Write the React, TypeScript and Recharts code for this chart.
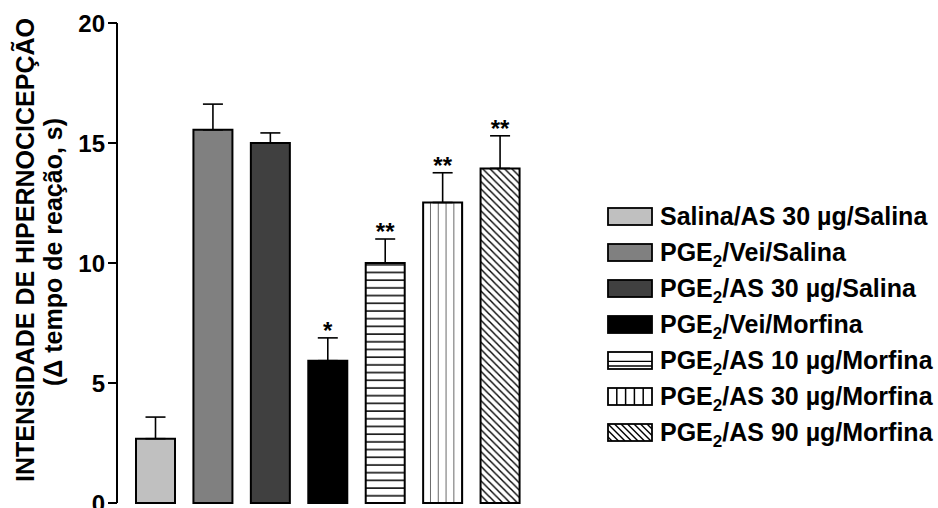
import React from 'react';
import { BarChart, Bar, XAxis, YAxis, ErrorBar, Cell, LabelList, Legend } from 'recharts';

const groups = [
  'Salina/AS 30 µg/Salina',
  'PGE2/Vei/Salina',
  'PGE2/AS 30 µg/Salina',
  'PGE2/Vei/Morfina',
  'PGE2/AS 10 µg/Morfina',
  'PGE2/AS 30 µg/Morfina',
  'PGE2/AS 90 µg/Morfina',
];
const means = [2.68, 15.55, 15.0, 5.93, 10.0, 12.52, 13.94];
const sems = [0.9, 1.07, 0.42, 0.95, 1.0, 1.24, 1.36];
const signif = ['', '', '', '*', '**', '**', '**'];
const yTicks = [0, 5, 10, 15, 20];
const yLabelLine1 = 'INTENSIDADE DE HIPERNOCICEPÇÃO';
const yLabelLine2 = '(Δ tempo de reação, s)';

const FILLS = ['#c0c0c0', '#808080', '#404040', '#000000', 'url(#hlines)', 'url(#vlines)', 'url(#diag)'];
const KINDS = ['solid', 'solid', 'solid', 'solid', 'h', 'v', 'd'];
const FONT = "'Liberation Sans', Arial, Helvetica, sans-serif";

const data = groups.map((g, i) => ({ name: g, mean: means[i], err: [0, sems[i]], sig: signif[i] }));

function renderLabelText(label: string) {
  const parts = label.split('PGE2');
  if (parts.length === 1) return label;
  return (
    <>
      PGE<span style={{ fontSize: 17, verticalAlign: '-6px', lineHeight: 0 }}>2</span>
      {parts[1]}
    </>
  );
}

function Swatch({ i }: { i: number }) {
  const kind = KINDS[i];
  const w = 44;
  const h = 17;
  const lines: React.ReactNode[] = [];
  if (kind === 'h') {
    lines.push(<line key="a" x1={1} x2={1 + w} y1={1 + h * 0.55} y2={1 + h * 0.55} stroke="#000" strokeWidth={1.2} />);
    lines.push(<line key="b" x1={1} x2={1 + w} y1={1 + h * 0.82} y2={1 + h * 0.82} stroke="#000" strokeWidth={1.6} />);
  } else if (kind === 'v') {
    for (let k = 1; k < 5; k++) {
      lines.push(<line key={k} x1={1 + (w * k) / 5} x2={1 + (w * k) / 5} y1={1} y2={1 + h} stroke="#000" strokeWidth={1.5} />);
    }
  } else if (kind === 'd') {
    for (let k = -3; k < 8; k++) {
      const x0 = 1 + k * 6.5;
      lines.push(<line key={k} x1={x0} y1={1} x2={x0 + h} y2={1 + h} stroke="#000" strokeWidth={1.4} />);
    }
  }
  return (
    <svg width={46} height={19} style={{ display: 'block', flex: 'none' }}>
      <defs>
        <clipPath id={`sw-clip-${i}`}>
          <rect x={1} y={1} width={w} height={h} />
        </clipPath>
      </defs>
      <rect x={1} y={1} width={w} height={h} fill={kind === 'solid' ? FILLS[i] : '#fff'} />
      <g clipPath={`url(#sw-clip-${i})`}>{lines}</g>
      <rect x={1} y={1} width={w} height={h} fill="none" stroke="#000" strokeWidth={1.8} />
    </svg>
  );
}

const renderLegend = () => (
  <div style={{ fontFamily: FONT, fontWeight: 'bold', fontSize: 25, color: '#000' }}>
    {groups.map((g, i) => (
      <div key={g} style={{ display: 'flex', alignItems: 'center', height: 36, whiteSpace: 'nowrap' }}>
        <Swatch i={i} />
        <span style={{ marginLeft: 7, lineHeight: '25px' }}>{renderLabelText(g)}</span>
      </div>
    ))}
  </div>
);

const renderYLabel = (props: any) => {
  const vb = props.viewBox || { x: 0, y: 23, width: 117, height: 480 };
  const cy = vb.y + vb.height / 2;
  return (
    <g>
      <text
        transform={`translate(${vb.x + 34}, ${cy - 13}) rotate(-90)`}
        textAnchor="middle"
        fontSize={25}
        fontWeight="bold"
        fontFamily={FONT}
        fill="#000"
      >
        {yLabelLine1}
      </text>
      <text
        transform={`translate(${vb.x + 62}, ${cy - 11}) rotate(-90)`}
        textAnchor="middle"
        fontSize={25}
        fontWeight="bold"
        fontFamily={FONT}
        fill="#000"
      >
        {yLabelLine2}
      </text>
    </g>
  );
};

const renderSig = (props: any) => {
  const { index, value } = props;
  const vb = props.viewBox || props;
  if (!value || index == null) return null;
  const pxPerUnit = vb.height / means[index];
  const errTop = vb.y - sems[index] * pxPerUnit;
  return (
    <text
      x={vb.x + vb.width / 2}
      y={errTop + 1}
      textAnchor="middle"
      fontSize={24}
      fontWeight="bold"
      fontFamily={FONT}
      fill="#000"
    >
      {value}
    </text>
  );
};

export default function App() {
  return (
    <div style={{ position: 'absolute', left: 0, top: 0, width: 938, height: 508, background: '#fff' }}>
      <BarChart width={938} height={508} data={data} margin={{ top: 23, right: 398, bottom: 5, left: 0 }}>
        <defs>
          <pattern id="hlines" patternUnits="userSpaceOnUse" width={8} height={7.7}>
            <line x1={0} x2={8} y1={3} y2={3} stroke="#000" strokeWidth={1.5} />
          </pattern>
          <pattern id="vlines" patternUnits="objectBoundingBox" patternContentUnits="objectBoundingBox" width={0.2} height={1}>
            <rect x={0} y={0} width={0.2} height={1} fill="#fff" />
            <rect x={0.185} y={0} width={0.03} height={1} fill="#000" />
          </pattern>
          <pattern id="diag" patternUnits="userSpaceOnUse" width={7.3} height={7.3}>
            <rect x={0} y={0} width={7.3} height={7.3} fill="#fff" />
            <path d="M0,0 L7.3,7.3 M-1,6.3 L1,8.3 M6.3,-1 L8.3,1" stroke="#000" strokeWidth={1.4} />
          </pattern>
        </defs>
        <XAxis
          dataKey="name"
          tick={false}
          tickLine={false}
          height={0}
          padding={{ left: 10, right: 11 }}
          axisLine={{ stroke: '#000', strokeWidth: 2 }}
        />
        <YAxis
          domain={[0, 20]}
          ticks={yTicks}
          width={117}
          tickSize={9}
          tickMargin={3}
          interval={0}
          axisLine={{ stroke: '#000', strokeWidth: 2 }}
          tickLine={{ stroke: '#000', strokeWidth: 2 }}
          tick={{ fill: '#000', fontSize: 24, fontWeight: 'bold', fontFamily: FONT }}
          label={{ content: renderYLabel }}
        />
        <Legend
          layout="vertical"
          align="center"
          verticalAlign="middle"
          content={renderLegend}
          wrapperStyle={{ left: 607, top: 198, width: 331, height: 260 }}
        />
        <Bar dataKey="mean" barSize={39} stroke="#000" strokeWidth={2} isAnimationActive={false}>
          {data.map((d, i) => (
            <Cell key={d.name} fill={FILLS[i]} stroke="#000" strokeWidth={2} />
          ))}
          <ErrorBar dataKey="err" width={10} stroke="#000" strokeWidth={1.6} direction="y" />
          <LabelList dataKey="sig" content={renderSig} />
        </Bar>
      </BarChart>
    </div>
  );
}
